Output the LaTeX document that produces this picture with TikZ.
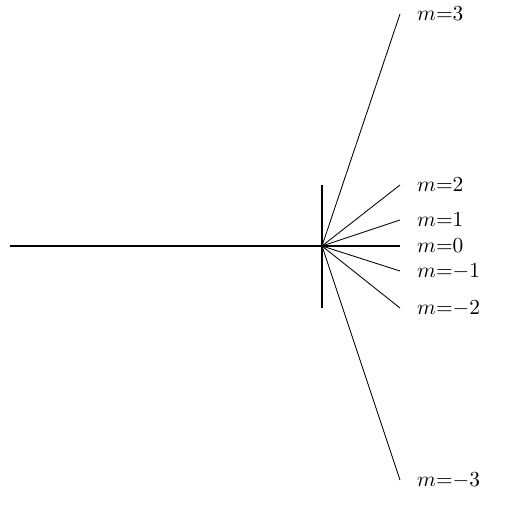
\documentclass[tikz,border=0pt]{standalone}
\usepackage{tikz}
\begin{document}
\begin{tikzpicture}[x=0.0164cm, y=-0.0164cm]
   \useasboundingbox (0,0) rectangle (507,509);
   % Grating and incoming beam
   \coordinate (src) at (10,246);
   \coordinate (o) at (322,246);
   \coordinate (gtop) at (322,185);
   \coordinate (gbot) at (322,308);
   \coordinate (out) at (400,246);
   \draw[thick] (src) -- (out);
   \draw[semithick] (gtop) -- (gbot);
    % Diffraction orders
    \foreach \m/\y in {3/14, 2/185, 1/220, 0/246, -1/271, -2/308, -3/480} {
      \coordinate (end\m) at (400,\y);
      \draw[thin] (o) -- (end\m) node[right=4.5pt] (lab\m) {$m$=$\m$};
    }
\end{tikzpicture}
\end{document}
